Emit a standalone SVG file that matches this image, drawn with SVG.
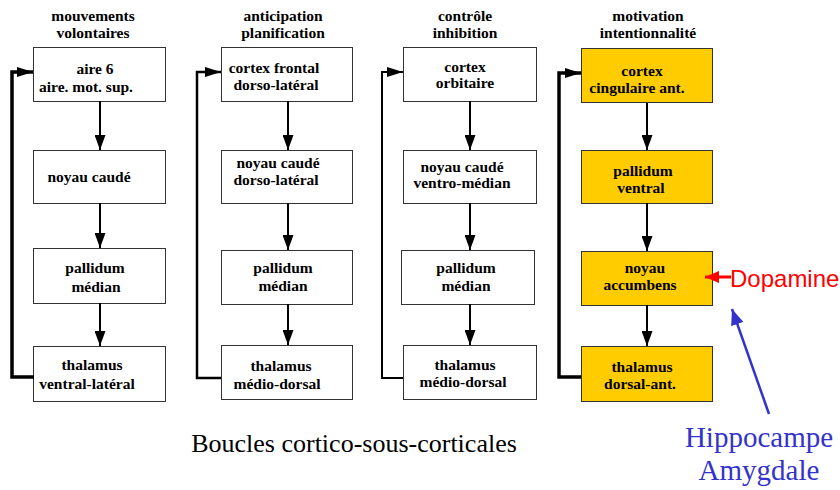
<svg xmlns="http://www.w3.org/2000/svg" width="840" height="490" viewBox="0 0 840 490">
<style>
.box{fill:#fff;stroke:#333;stroke-width:1}
.yb{fill:#FFCC00;stroke:#333;stroke-width:1}
.t{font-family:'Liberation Serif','Times New Roman',serif;font-weight:bold;font-size:15.5px;fill:#000;text-anchor:middle}
.ar{stroke:#000;stroke-width:2;fill:none;marker-end:url(#ah)}
.loop{stroke:#000;fill:none;stroke-linejoin:miter}
</style>
<defs>
<marker id="ah" markerWidth="15" markerHeight="11" refX="15" refY="5.5" orient="auto" markerUnits="userSpaceOnUse">
<path d="M0,0 L15,5.5 L0,11 z" fill="#000"/>
</marker>
<marker id="lh" markerWidth="16" markerHeight="10" refX="16" refY="5" orient="auto" markerUnits="userSpaceOnUse">
<path d="M0,0 L16,5 L0,10 z" fill="#000"/>
</marker>
<marker id="rh" markerWidth="14" markerHeight="12" refX="14" refY="6" orient="auto" markerUnits="userSpaceOnUse">
<path d="M0,0 L14,6 L0,12 z" fill="#FF0000"/>
</marker>
<marker id="bh" markerWidth="16" markerHeight="13" refX="16" refY="6.5" orient="auto" markerUnits="userSpaceOnUse">
<path d="M0,0 L16,6.5 L0,13 z" fill="#3333CC"/>
</marker>
</defs>

<!-- headers -->
<g id="headers">
<text class="t" x="93" y="21">mouvements</text>
<text class="t" x="93" y="38">volontaires</text>
<text class="t" x="283" y="21">anticipation</text>
<text class="t" x="283" y="38">planification</text>
<text class="t" x="465" y="21">contrôle</text>
<text class="t" x="465" y="38">inhibition</text>
<text class="t" x="648" y="21">motivation</text>
<text class="t" x="648" y="38">intentionnalité</text>
</g>

<!-- column 1 -->
<g id="c1b1"><rect class="box" x="33.5" y="47.5" width="132" height="54"/><text class="t" x="95" y="74">aire 6</text><text class="t" x="86" y="92">aire. mot. sup.</text></g>
<g id="c1b2"><rect class="box" x="33.5" y="150.5" width="132" height="53"/><text class="t" x="89" y="182">noyau caudé</text></g>
<g id="c1b3"><rect class="box" x="33.5" y="248.5" width="132" height="55"/><text class="t" x="95" y="273">pallidum</text><text class="t" x="96" y="292">médian</text></g>
<g id="c1b4"><rect class="box" x="33.5" y="346.5" width="132" height="55"/><text class="t" x="92" y="370">thalamus</text><text class="t" x="87" y="389">ventral-latéral</text></g>

<!-- column 2 -->
<g id="c2b1"><rect class="box" x="221.5" y="47.5" width="131" height="54"/><text class="t" x="274" y="73">cortex frontal</text><text class="t" x="276" y="90">dorso-latéral</text></g>
<g id="c2b2"><rect class="box" x="221.5" y="150.5" width="131" height="53"/><text class="t" x="278" y="168">noyau caudé</text><text class="t" x="276" y="185">dorso-latéral</text></g>
<g id="c2b3"><rect class="box" x="221.5" y="250.5" width="131" height="54"/><text class="t" x="283" y="273">pallidum</text><text class="t" x="283" y="291">médian</text></g>
<g id="c2b4"><rect class="box" x="221.5" y="345.5" width="131" height="54"/><text class="t" x="281" y="371">thalamus</text><text class="t" x="277" y="389">médio-dorsal</text></g>

<!-- column 3 -->
<g id="c3b1"><rect class="box" x="403.5" y="47.5" width="133" height="54"/><text class="t" x="465" y="72">cortex</text><text class="t" x="465" y="88">orbitaire</text></g>
<g id="c3b2"><rect class="box" x="403.5" y="150.5" width="133" height="53"/><text class="t" x="462" y="172">noyau caudé</text><text class="t" x="462" y="188">ventro-médian</text></g>
<g id="c3b3"><rect class="box" x="401.5" y="250.5" width="133" height="54"/><text class="t" x="466" y="273">pallidum</text><text class="t" x="466" y="291">médian</text></g>
<g id="c3b4"><rect class="box" x="403.5" y="345.5" width="133" height="54"/><text class="t" x="465" y="370">thalamus</text><text class="t" x="463" y="387">médio-dorsal</text></g>

<!-- column 4 -->
<g id="c4b1"><rect class="yb" x="581.5" y="48.5" width="131" height="54"/><text class="t" x="642" y="76">cortex</text><text class="t" x="637" y="93">cingulaire ant.</text></g>
<g id="c4b2"><rect class="yb" x="581.5" y="150.5" width="131" height="53"/><text class="t" x="643" y="176">pallidum</text><text class="t" x="641" y="193">ventral</text></g>
<g id="c4b3"><rect class="yb" x="581.5" y="251.5" width="131" height="54"/><text class="t" x="645" y="273">noyau</text><text class="t" x="640" y="290">accumbens</text></g>
<g id="c4b4"><rect class="yb" x="581.5" y="346.5" width="131" height="55"/><text class="t" x="642" y="372">thalamus</text><text class="t" x="640" y="389">dorsal-ant.</text></g>

<!-- connectors -->
<g id="connectors">
<line class="ar" x1="100" y1="101" x2="100" y2="150"/>
<line class="ar" x1="100" y1="203" x2="100" y2="248"/>
<line class="ar" x1="100" y1="303" x2="100" y2="346"/>
<line class="ar" x1="288" y1="101" x2="288" y2="150"/>
<line class="ar" x1="288" y1="203" x2="288" y2="250"/>
<line class="ar" x1="288" y1="304" x2="288" y2="345"/>
<line class="ar" x1="470" y1="101" x2="470" y2="150"/>
<line class="ar" x1="470" y1="203" x2="470" y2="250"/>
<line class="ar" x1="470" y1="304" x2="470" y2="345"/>
<line class="ar" x1="647" y1="103" x2="647" y2="150"/>
<line class="ar" x1="647" y1="203" x2="647" y2="251"/>
<line class="ar" x1="647" y1="305" x2="647" y2="346"/>

<path class="loop" stroke-width="3.5" d="M34,377 H12 V72 H33" marker-end="url(#lh)"/>
<path class="loop" stroke-width="2.5" d="M221,378 H197 V72 H221" marker-end="url(#lh)"/>
<path class="loop" stroke-width="2" d="M403,378 H382 V72 H403" marker-end="url(#lh)"/>
<path class="loop" stroke-width="3.5" d="M581,377 H559 V73 H581" marker-end="url(#lh)"/>

<line x1="731" y1="277" x2="705" y2="277" stroke="#FF0000" stroke-width="3" marker-end="url(#rh)"/>
<line x1="769" y1="414" x2="732" y2="309" stroke="#3333CC" stroke-width="2.5" marker-end="url(#bh)"/>
</g>

<text x="730" y="287" font-family="Liberation Sans, Arial, sans-serif" font-size="24" fill="#FF0000">Dopamine</text>
<text x="354" y="452" font-family="Liberation Serif, Times New Roman, serif" font-size="26" fill="#000" text-anchor="middle">Boucles cortico-sous-corticales</text>
<text x="759" y="447" font-family="Liberation Serif, Times New Roman, serif" font-size="29" fill="#3333CC" text-anchor="middle">Hippocampe</text>
<text x="759" y="480" font-family="Liberation Serif, Times New Roman, serif" font-size="29" fill="#3333CC" text-anchor="middle">Amygdale</text>
</svg>
